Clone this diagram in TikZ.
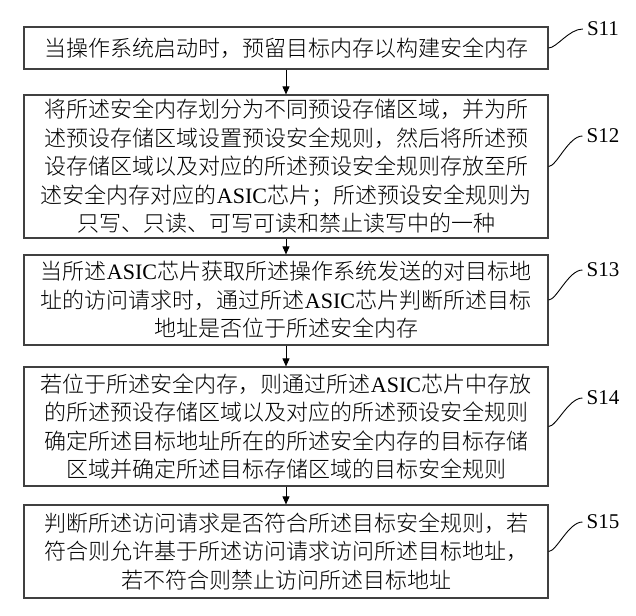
\documentclass[tikz,border=0pt]{standalone}
\usepackage{fontspec}
\setmainfont{Noto Sans CJK SC}[UprightFont={* Light}]
\newfontfamily\latfont{Liberation Serif}
\usetikzlibrary{arrows.meta,positioning}
\newcommand{\asic}{{\latfont ASIC}}

\begin{document}
\begin{tikzpicture}[x=1pt,y=-1pt,
  stepbox/.style={draw=black!75,line width=1.2pt,minimum width=524pt,align=center,
    font=\fontsize{22}{28.5}\selectfont,inner xsep=6pt,inner ysep=3pt},
  steptag/.style={font=\latfont\fontsize{21}{24}\selectfont,inner sep=4pt},
  flowarrow/.style={-{Triangle[length=8pt,width=7pt]},line width=0.9pt},
  tagline/.style={line width=0.9pt}
]
  \useasboundingbox (0,0) rectangle (636,615);

  % S11
  \node[stepbox,minimum height=42pt] (s11) at (286,48) {
    当操作系统启动时，预留目标内存以构建安全内存};

  % S12
  \node[stepbox,minimum height=143pt] (s12) at (286,166.5) {
    将所述安全内存划分为不同预设存储区域，并为所\\
    述预设存储区域设置预设安全规则，然后将所述预\\
    设存储区域以及对应的所述预设安全规则存放至所\\
    述安全内存对应的\asic{}芯片；所述预设安全规则为\\
    只写、只读、可写可读和禁止读写中的一种};

  % S13
  \node[stepbox,minimum height=90pt] (s13) at (286,300) {
    当所述\asic{}芯片获取所述操作系统发送的对目标地\\
    址的访问请求时，通过所述\asic{}芯片判断所述目标\\
    地址是否位于所述安全内存};

  % S14
  \node[stepbox,minimum height=119pt] (s14) at (286,426.5) {
    若位于所述安全内存，则通过所述\asic{}芯片中存放\\
    的所述预设存储区域以及对应的所述预设安全规则\\
    确定所述目标地址所在的所述安全内存的目标存储\\
    区域并确定所述目标存储区域的目标安全规则};

  % S15
  \node[stepbox,minimum height=93pt] (s15) at (286,551.5) {
    判断所述访问请求是否符合所述目标安全规则，若\\
    符合则允许基于所述访问请求访问所述目标地址，\\
    若不符合则禁止访问所述目标地址};

  % Step tags
  \node[steptag] (t11) at (603,29) {S11};
  \node[steptag] (t12) at (603,136) {S12};
  \node[steptag] (t13) at (603,270) {S13};
  \node[steptag] (t14) at (603,398) {S14};
  \node[steptag] (t15) at (603,522) {S15};

  \foreach \n in {11,12,13,14,15}
    \draw[tagline] (s\n.east) .. controls +(8,0) and +(-14,0) .. (t\n.west);

  % Arrows between steps
  \draw[flowarrow] (s11) -- (s12);
  \draw[flowarrow] (s12) -- (s13);
  \draw[flowarrow] (s13) -- (s14);
  \draw[flowarrow] (s14) -- (s15);
\end{tikzpicture}
\end{document}
